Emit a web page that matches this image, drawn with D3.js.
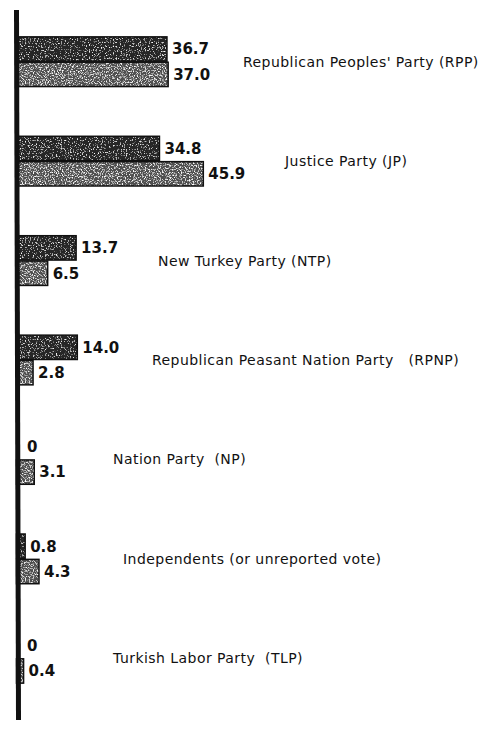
<!DOCTYPE html>
<html>
<head>
<meta charset="utf-8">
<script src="https://d3js.org/d3.v7.min.js"></script>
<style>
  body { margin: 0; background: #fff; }
  svg { display: block; }
  .value { font-family: "DejaVu Sans", sans-serif; font-weight: bold; font-size: 15px; fill: #111; }
  .party { font-family: "DejaVu Sans", sans-serif; font-size: 14px; letter-spacing: 0.45px; fill: #111; }
</style>
</head>
<body>
<svg id="chart" width="497" height="730"></svg>
<script>
// party names, top to bottom
let parties = [
  "Republican Peoples' Party (RPP)",
  "Justice Party (JP)",
  "New Turkey Party (NTP)",
  "Republican Peasant Nation Party\u00a0\u00a0\u00a0(RPNP)",
  "Nation Party\u00a0\u00a0(NP)",
  "Independents (or unreported vote)",
  "Turkish Labor Party\u00a0\u00a0(TLP)"
];
// upper (dark) bar of each pair
let firstVote = [36.7, 34.8, 13.7, 14.0, 0, 0.8, 0];
// lower (light) bar of each pair
let secondVote = [37.0, 45.9, 6.5, 2.8, 3.1, 4.3, 0.4];
let valueLabels1 = ["36.7", "34.8", "13.7", "14.0", "0", "0.8", "0"];
let valueLabels2 = ["37.0", "45.9", "6.5", "2.8", "3.1", "4.3", "0.4"];

let svg = d3.select('#chart');
let defs = svg.append('defs');

// stipple texture for the scanned bars
function speckle(id, alphaSlope, alphaShift, seed) {
  let f = defs.append('filter').attr('id', id)
    .attr('x', 0).attr('y', 0).attr('width', 1).attr('height', 1);
  f.append('feTurbulence').attr('type', 'fractalNoise')
    .attr('baseFrequency', 0.75).attr('numOctaves', 2).attr('seed', seed).attr('result', 'noise');
  f.append('feColorMatrix').attr('in', 'noise').attr('type', 'matrix')
    .attr('values', `0 0 0 0 1  0 0 0 0 1  0 0 0 0 1  ${alphaSlope} 0 0 0 ${alphaShift}`)
    .attr('result', 'specks');
  f.append('feComposite').attr('in', 'specks').attr('in2', 'SourceGraphic')
    .attr('operator', 'in').attr('result', 'clipped');
  let m = f.append('feMerge');
  m.append('feMergeNode').attr('in', 'SourceGraphic');
  m.append('feMergeNode').attr('in', 'clipped');
}
speckle('speckDark', 4, -2.3, 3);
speckle('speckLight', 4, -2.0, 7);

let x = d3.scaleLinear().domain([0, 50]).range([22, 219.5]);
let y = d3.scaleBand().domain(parties).range([12, 708]).paddingInner(0.5).paddingOuter(0.25);
let ySub = d3.scaleBand().domain(['first', 'second']).range([0, y.bandwidth()]).paddingInner(0.04);

// bars start under the base line, a few px left of the zero point
let baseX = x(0) - 5.5;

let rows = parties.map((p, i) => ({
  party: p,
  bars: [
    {key: 'first', value: firstVote[i], label: valueLabels1[i]},
    {key: 'second', value: secondVote[i], label: valueLabels2[i]}
  ]
}));

// where each party name sits, left edge in px
let nameX = [243, 285, 158, 152, 113, 123, 113];

let groups = svg.selectAll('g.party-group')
  .data(rows)
  .enter()
  .append('g')
  .attr('class', 'party-group')
  .attr('transform', d => `translate(0, ${y(d.party)})`);

let bars = groups.selectAll('g.bar')
  .data(d => d.bars)
  .enter()
  .append('g')
  .attr('class', 'bar')
  .attr('transform', d => `translate(0, ${ySub(d.key)})`);

let shown = bars.filter(d => d.value > 0);

shown.append('rect')
  .attr('x', baseX)
  .attr('width', d => x(d.value) - baseX)
  .attr('height', ySub.bandwidth())
  .attr('fill', d => d.key === 'first' ? '#262626' : '#505050')
  .attr('filter', d => d.key === 'first' ? 'url(#speckDark)' : 'url(#speckLight)');

shown.append('rect')
  .attr('x', baseX)
  .attr('width', d => x(d.value) - baseX)
  .attr('height', ySub.bandwidth())
  .attr('fill', 'none')
  .attr('stroke', '#111')
  .attr('stroke-width', 1.5);

bars.append('text')
  .attr('class', 'value')
  .attr('x', d => x(d.value) + 5)
  .attr('y', ySub.bandwidth() / 2)
  .attr('dy', '0.36em')
  .text(d => d.label);

groups.append('text')
  .attr('class', 'party')
  .attr('x', (d, i) => nameX[i])
  .attr('y', y.bandwidth() / 2)
  .attr('dy', '0.36em')
  .text(d => d.party);

// the vertical base line
svg.append('line')
  .attr('x1', baseX).attr('x2', baseX + 2)
  .attr('y1', 10).attr('y2', 720)
  .attr('stroke', '#111')
  .attr('stroke-width', 5);
</script>
</body>
</html>
